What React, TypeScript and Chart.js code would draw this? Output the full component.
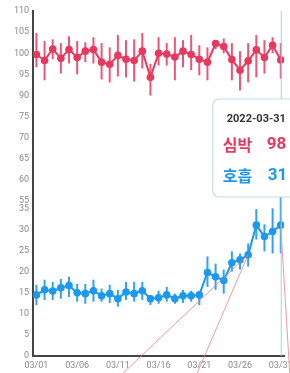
import React, { useEffect, useRef } from "react";
import { Chart, registerables } from "chart.js";

Chart.register(...registerables);

const year = "2022";
const days = [
  "03/01", "03/02", "03/03", "03/04", "03/05", "03/06", "03/07", "03/08", "03/09", "03/10",
  "03/11", "03/12", "03/13", "03/14", "03/15", "03/16", "03/17", "03/18", "03/19", "03/20",
  "03/21", "03/22", "03/23", "03/24", "03/25", "03/26", "03/27", "03/28", "03/29", "03/30",
  "03/31",
];
const xTickIndex = [0, 5, 10, 15, 20, 25, 30];

const heartLabel = "심박";
const breathLabel = "호흡";

const heart = [
  99.7, 98.3, 101, 98.8, 100.9, 99, 100.5, 100.9, 97.9, 97.4,
  99.5, 98.6, 98.3, 100.5, 94.3, 100, 99.8, 99.1, 100.5, 99.7,
  98.6, 97.9, 102.3, 101.6, 98.5, 96, 98.2, 100.8, 99, 101.9,
  98.4,
];
const heartHi = [
  104.8, 102.9, 103.3, 102.4, 104, 102.9, 102.6, 103.8, 102.4, 101.4,
  104.3, 103.1, 103.3, 104.8, 97.5, 103.8, 102.4, 103.8, 103.1, 104.3,
  101.9, 101.4, 103, 103.5, 102.4, 100.5, 102.4, 104.3, 103.1, 103.8,
  102.4,
];
const heartLo = [
  96.7, 93.6, 98.6, 95.2, 97.6, 95, 97.9, 97.6, 93.8, 93.1,
  94.5, 94.3, 93.3, 96.4, 90, 97.1, 97.1, 93.6, 96.7, 96,
  94.8, 93.6, 101, 100, 93.6, 91.2, 93.1, 94.3, 95.2, 100,
  94,
];

const breath = [
  14.5, 15.7, 15.4, 16.2, 16.7, 15, 14.8, 15.5, 14.3, 14.8,
  13.6, 15.2, 14.8, 15.5, 13.6, 13.8, 14.5, 13.6, 14.3, 14.3,
  14.5, 19.8, 18.8, 17.9, 22.1, 22.8, 24, 31, 28.3, 29.5,
  31,
];
const breathHi = [
  16.9, 18.1, 17.6, 18.3, 18.8, 17.1, 17.1, 18.1, 16, 16.9,
  15.7, 17.6, 17.6, 17.6, 14.5, 15.5, 16.4, 14.8, 15.7, 15.5,
  15.2, 23.6, 21.9, 20.5, 24.8, 24.3, 26.7, 34.8, 31.2, 35,
  37.9,
];
const breathLo = [
  12.1, 13.3, 13.3, 13.6, 14, 12.9, 12.4, 12.9, 12.9, 12.6,
  11.7, 13.3, 12.9, 13.3, 12.1, 12.4, 12.9, 12.4, 12.6, 12.9,
  12.1, 16.4, 15.7, 14.8, 20, 20.5, 21.2, 27.6, 24.8, 24.3,
  24.3,
];

// upper (heart) axis tick values and the labels shown for them
const heartTickValues = [65, 70, 75, 80, 85, 90, 95, 100, 105, 110];
const heartTickLabels = ["55", "60", "65", "70", "75", "90", "95", "100", "105", "110"];
const breathTickValues = [0, 5, 10, 15, 20, 25, 30, 35];

const activeIndex = 30;
const calloutIndex = 26;

const RED = "#e8385e";
const BLUE = "#1a99ee";

export default function App() {
  const ref = useRef<HTMLCanvasElement | null>(null);

  useEffect(() => {
    document.body.style.margin = "0";
    const canvas = ref.current;
    if (!canvas) return;

    const errorBars = {
      id: "errorBars",
      beforeDatasetsDraw(chart: any) {
        const ctx = chart.ctx;
        const x = chart.scales.x;
        const sets = [
          { axis: chart.scales.yH, hi: heartHi, lo: heartLo, color: "rgba(232,56,94,0.85)" },
          { axis: chart.scales.yB, hi: breathHi, lo: breathLo, color: "rgba(26,153,238,0.9)" },
        ];
        ctx.save();
        for (const s of sets) {
          ctx.strokeStyle = s.color;
          ctx.lineWidth = 2;
          for (let i = 0; i < s.hi.length; i++) {
            const px = x.getPixelForValue(i);
            ctx.beginPath();
            ctx.moveTo(px, s.axis.getPixelForValue(s.hi[i]));
            ctx.lineTo(px, s.axis.getPixelForValue(s.lo[i]));
            ctx.stroke();
          }
        }
        ctx.restore();
      },
    };

    const overlay = {
      id: "overlay",
      afterDraw(chart: any) {
        const ctx = chart.ctx;
        const area = chart.chartArea;
        const x = chart.scales.x;
        const yB = chart.scales.yB;
        const ax = x.getPixelForValue(activeIndex);

        ctx.save();
        // callout lines
        ctx.strokeStyle = "rgba(232,120,130,0.75)";
        ctx.lineWidth = 1;
        const cx = x.getPixelForValue(calloutIndex);
        const cy = yB.getPixelForValue(breath[calloutIndex]);
        ctx.beginPath();
        ctx.moveTo(cx, cy);
        ctx.lineTo(cx - 125, chart.height);
        ctx.moveTo(cx, cy);
        ctx.lineTo(cx - 51, chart.height);
        const ay = yB.getPixelForValue(breath[activeIndex]);
        ctx.moveTo(ax, ay);
        ctx.lineTo(ax + 9, chart.height);
        ctx.stroke();

        // hover line
        ctx.strokeStyle = "#9fd0ec";
        ctx.beginPath();
        ctx.moveTo(ax + 0.5, area.top);
        ctx.lineTo(ax + 0.5, area.bottom);
        ctx.stroke();

        // tooltip box
        const bx = ax - 68;
        const by = area.top + 88;
        const bw = 90;
        const bh = 98;
        const r = 6;
        ctx.fillStyle = "rgba(255,255,255,0.97)";
        ctx.strokeStyle = "#c3dcec";
        ctx.lineWidth = 1.2;
        ctx.beginPath();
        ctx.moveTo(bx + r, by);
        ctx.lineTo(bx + bw - r, by);
        ctx.arcTo(bx + bw, by, bx + bw, by + r, r);
        ctx.lineTo(bx + bw, by + bh - r);
        ctx.arcTo(bx + bw, by + bh, bx + bw - r, by + bh, r);
        ctx.lineTo(bx + r, by + bh);
        ctx.arcTo(bx, by + bh, bx, by + bh - r, r);
        ctx.lineTo(bx, by + r);
        ctx.arcTo(bx, by, bx + r, by, r);
        ctx.closePath();
        ctx.fill();
        ctx.stroke();

        ctx.textBaseline = "middle";
        ctx.textAlign = "left";
        ctx.fillStyle = "#333";
        ctx.font = "bold 11px Roboto";
        ctx.fillText(`${year}-${days[activeIndex].replace("/", "-")}`, bx + 14, by + 20);

        ctx.font = "bold 16px 'Noto Sans CJK KR'";
        ctx.fillStyle = RED;
        ctx.fillText(heartLabel, bx + 10, by + 46);
        ctx.fillStyle = BLUE;
        ctx.fillText(breathLabel, bx + 10, by + 77);
        ctx.font = "bold 17px Roboto";
        ctx.fillStyle = RED;
        ctx.fillText(String(Math.round(heart[activeIndex])), bx + 54, by + 46);
        ctx.fillStyle = BLUE;
        ctx.fillText(String(Math.round(breath[activeIndex])), bx + 55, by + 77);
        ctx.restore();
      },
    };

    const tickFont = { family: "Roboto", size: 9 };
    const tickColor = "#8a8a8a";
    const border = { display: true, color: "#444", width: 2 };

    const chart = new Chart(canvas, {
      type: "line",
      data: {
        datasets: [
          {
            label: heartLabel,
            data: heart.map((v, i) => ({ x: i, y: v })),
            yAxisID: "yH",
            borderColor: RED,
            backgroundColor: RED,
            borderWidth: 2,
            pointRadius: 3.8,
            pointBorderWidth: 0,
            tension: 0,
          },
          {
            label: breathLabel,
            data: breath.map((v, i) => ({ x: i, y: v })),
            yAxisID: "yB",
            borderColor: BLUE,
            backgroundColor: BLUE,
            borderWidth: 2,
            pointRadius: 3.8,
            pointBorderWidth: 0,
            tension: 0,
          },
        ],
      },
      options: {
        responsive: false,
        animation: false,
        layout: { padding: { left: 10, right: 16, top: 11, bottom: -2 } },
        plugins: { legend: { display: false }, tooltip: { enabled: false } },
        scales: {
          x: {
            type: "linear",
            min: -0.4,
            max: 30.4,
            grid: { display: false, drawTicks: false },
            border,
            afterBuildTicks: (s: any) => {
              s.ticks = xTickIndex.map((v) => ({ value: v }));
            },
            ticks: {
              font: tickFont,
              color: tickColor,
              padding: 4,
              maxRotation: 0,
              autoSkip: false,
              callback: (v: any) => days[v as number],
            },
          },
          yB: {
            type: "linear",
            position: "left",
            stack: "y",
            stackWeight: 3,
            min: 0,
            max: 35,
            grid: { display: false, drawTicks: false },
            border,
            afterBuildTicks: (s: any) => {
              s.ticks = breathTickValues.map((v) => ({ value: v }));
            },
            ticks: {
              font: tickFont,
              color: tickColor,
              padding: 4,
              autoSkip: false,
            },
          },
          yH: {
            type: "linear",
            position: "left",
            stack: "y",
            stackWeight: 4,
            min: 63.3333,
            max: 110,
            grid: { display: false, drawTicks: false },
            border,
            afterBuildTicks: (s: any) => {
              s.ticks = heartTickValues.map((v) => ({ value: v }));
            },
            ticks: {
              font: tickFont,
              color: tickColor,
              padding: 4,
              autoSkip: false,
              callback: (v: any) => heartTickLabels[heartTickValues.indexOf(v as number)],
            },
          },
        },
      },
      plugins: [errorBars, overlay],
    });

    return () => chart.destroy();
  }, []);

  return (
    <div style={{ width: 290, height: 373, overflow: "hidden", background: "#fff" }}>
      <canvas ref={ref} width={300} height={373} style={{ display: "block" }} />
    </div>
  );
}
